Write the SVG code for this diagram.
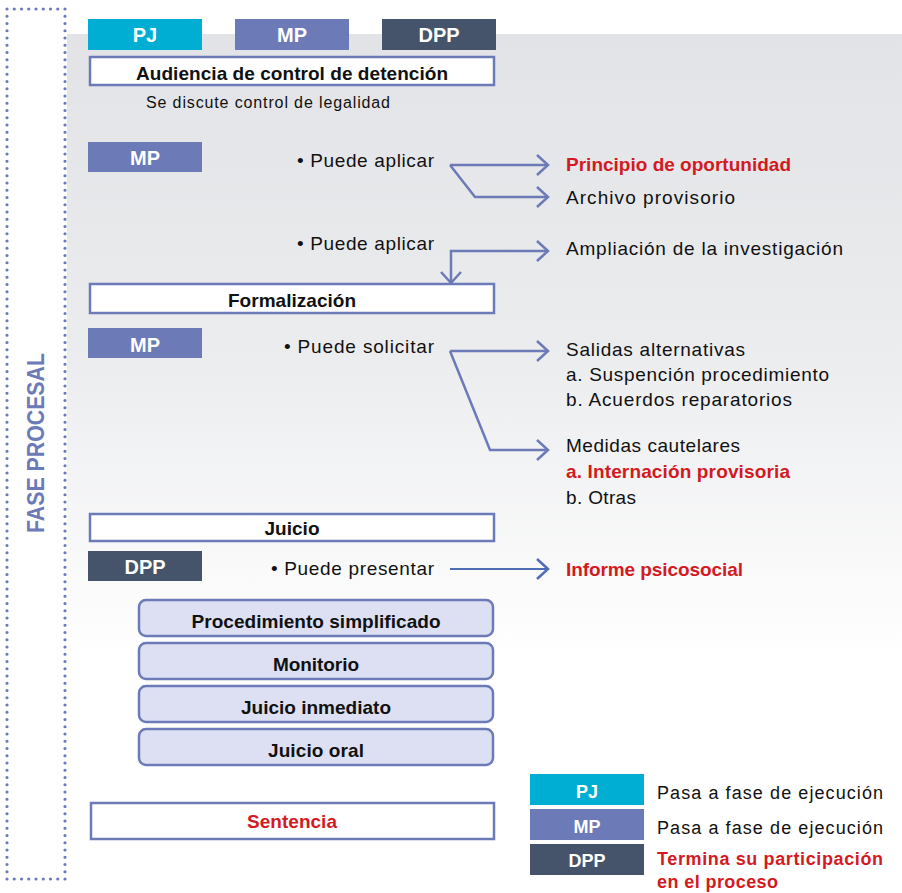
<svg xmlns="http://www.w3.org/2000/svg" width="902" height="893" viewBox="0 0 902 893">
<style>
text{font-family:"Liberation Sans",Arial,sans-serif;fill:#111}
.b{font-weight:bold}
.r{font-size:19px}
.red{fill:#D31A22;font-weight:bold}
.lab{font-weight:bold;font-size:20px;fill:#fff;text-anchor:middle}
.lab2{font-weight:bold;font-size:18px;fill:#fff;text-anchor:middle}
.box{fill:#fff;stroke:#6C7AB8;stroke-width:2.5}
.rbox{fill:#DDE0F2;stroke:#6C7AB8;stroke-width:2.5}
.mid{text-anchor:middle;font-weight:bold;font-size:19px}
.pj{fill:#00AED4}.mp{fill:#6C7AB8}.dpp{fill:#45546B}
.con{fill:none;stroke:#6C7AB8;stroke-width:2.5}
.dot{fill:none;stroke:#6C7AB8;stroke-width:3.2;stroke-linecap:round;stroke-dasharray:0 7.25}
</style>
<defs>
<linearGradient id="bg" x1="0" y1="34" x2="0" y2="660" gradientUnits="userSpaceOnUse">
<stop offset="0" stop-color="#E1E3E6"/>
<stop offset="0.5" stop-color="#EBECEE"/>
<stop offset="1" stop-color="#FFFFFF"/>
</linearGradient>
<marker id="ah" markerUnits="userSpaceOnUse" markerWidth="16" markerHeight="24" refX="12" refY="11" orient="auto-start-reverse">
<path d="M1,1 L12,11 L1,21" fill="none" stroke="#6C7AB8" stroke-width="2.5"/>
</marker>
<marker id="ah2" markerUnits="userSpaceOnUse" markerWidth="16" markerHeight="24" refX="12" refY="11" orient="auto">
<path d="M1,1 L12,11 L1,21" fill="none" stroke="#4F6DB5" stroke-width="2.5"/>
</marker>
</defs>
<rect x="67" y="34" width="835" height="859" fill="url(#bg)"/>
<g id="bracket">
<path class="dot" d="M65,9 H7 V879 H65 V9"/>
<text transform="translate(44,443) rotate(-90)" text-anchor="middle" font-weight="bold" font-size="23" style="fill:#6C7AB8" textLength="180" lengthAdjust="spacingAndGlyphs">FASE PROCESAL</text>
</g>
<g id="legend-top">
<rect class="pj" x="88" y="19" width="114" height="31"/><text class="lab" x="145" y="42">PJ</text>
<rect class="mp" x="235" y="19" width="114" height="31"/><text class="lab" x="292" y="42">MP</text>
<rect class="dpp" x="382" y="19" width="114" height="31"/><text class="lab" x="439" y="42">DPP</text>
</g>
<g id="audiencia">
<rect class="box" x="90" y="57" width="404" height="28"/>
<text class="mid" x="292" y="80" textLength="312">Audiencia de control de detención</text>
<text x="146" y="108" font-size="16" textLength="244">Se discute control de legalidad</text>
</g>
<g id="mp1">
<rect class="mp" x="88" y="142" width="114" height="30"/><text class="lab" x="145" y="165">MP</text>
<text class="r" x="297" y="167" textLength="137">• Puede aplicar</text>
</g>
<g id="oportunidad"><text class="r red" x="566" y="171" textLength="225">Principio de oportunidad</text></g>
<g id="archivo"><text class="r" x="566" y="204" textLength="169">Archivo provisorio</text></g>
<g id="aplicar2"><text class="r" x="297" y="250" textLength="137">• Puede aplicar</text></g>
<g id="ampliacion"><text class="r" x="566" y="255" textLength="277">Ampliación de la investigación</text></g>
<g id="formalizacion">
<rect class="box" x="90" y="284" width="404" height="29"/>
<text class="mid" x="292" y="307" textLength="128">Formalización</text>
</g>
<g id="mp2">
<rect class="mp" x="88" y="328" width="114" height="30"/><text class="lab" x="145" y="352">MP</text>
<text class="r" x="284" y="353" textLength="150">• Puede solicitar</text>
</g>
<g id="salidas">
<text class="r" x="566" y="356" textLength="179">Salidas alternativas</text>
<text class="r" x="566" y="381" textLength="263">a. Suspención procedimiento</text>
<text class="r" x="566" y="406" textLength="226">b. Acuerdos reparatorios</text>
</g>
<g id="medidas">
<text class="r" x="566" y="452" textLength="174">Medidas cautelares</text>
<text class="r red" x="566" y="478" textLength="224">a. Internación provisoria</text>
<text class="r" x="566" y="504" textLength="70">b. Otras</text>
</g>
<g id="juicio">
<rect class="box" x="90" y="514" width="404" height="27"/>
<text class="mid" x="292" y="535" textLength="55">Juicio</text>
</g>
<g id="dpp1">
<rect class="dpp" x="88" y="551" width="114" height="30"/><text class="lab" x="145" y="574">DPP</text>
<text class="r" x="271" y="575" textLength="163">• Puede presentar</text>
</g>
<g id="informe"><text class="r red" x="566" y="576" textLength="177">Informe psicosocial</text></g>
<g id="simplificado"><rect class="rbox" x="139" y="600" width="354" height="36" rx="7"/><text class="mid" x="316" y="628" textLength="249">Procedimiento simplificado</text></g>
<g id="monitorio"><rect class="rbox" x="139" y="643" width="354" height="36" rx="7"/><text class="mid" x="316" y="671" textLength="86">Monitorio</text></g>
<g id="inmediato"><rect class="rbox" x="139" y="686" width="354" height="36" rx="7"/><text class="mid" x="316" y="714" textLength="150">Juicio inmediato</text></g>
<g id="oral"><rect class="rbox" x="139" y="729" width="354" height="36" rx="7"/><text class="mid" x="316" y="757" textLength="96">Juicio oral</text></g>
<g id="sentencia">
<rect class="box" x="91" y="803" width="403" height="36"/>
<text class="mid red" x="292" y="828" textLength="90">Sentencia</text>
</g>
<g id="legend-bottom">
<rect class="pj" x="530" y="774" width="114" height="31"/><text class="lab2" x="587" y="798">PJ</text>
<rect class="mp" x="530" y="809" width="114" height="31"/><text class="lab2" x="587" y="833">MP</text>
<rect class="dpp" x="530" y="844" width="114" height="31"/><text class="lab2" x="587" y="867">DPP</text>
<text x="657" y="799" font-size="18" textLength="226">Pasa a fase de ejecución</text>
<text x="657" y="834" font-size="18" textLength="226">Pasa a fase de ejecución</text>
<text class="red" x="657" y="865" font-size="18" textLength="226">Termina su participación</text>
<text class="red" x="657" y="888" font-size="18" textLength="121">en el proceso</text>
</g>
<g id="connectors">
<path class="con" d="M450,165 H548" marker-end="url(#ah)"/>
<path class="con" d="M450,165 L475,197 H548" marker-end="url(#ah)"/>
<path class="con" d="M451,283 V251 H548" marker-start="url(#ah)" marker-end="url(#ah)"/>
<path class="con" d="M450,351 H548" marker-end="url(#ah)"/>
<path class="con" d="M450,351 L490,450 H548" marker-end="url(#ah)"/>
<path d="M450,569 H548" fill="none" stroke="#4F6DB5" stroke-width="2" marker-end="url(#ah2)"/>
</g>
</svg>
